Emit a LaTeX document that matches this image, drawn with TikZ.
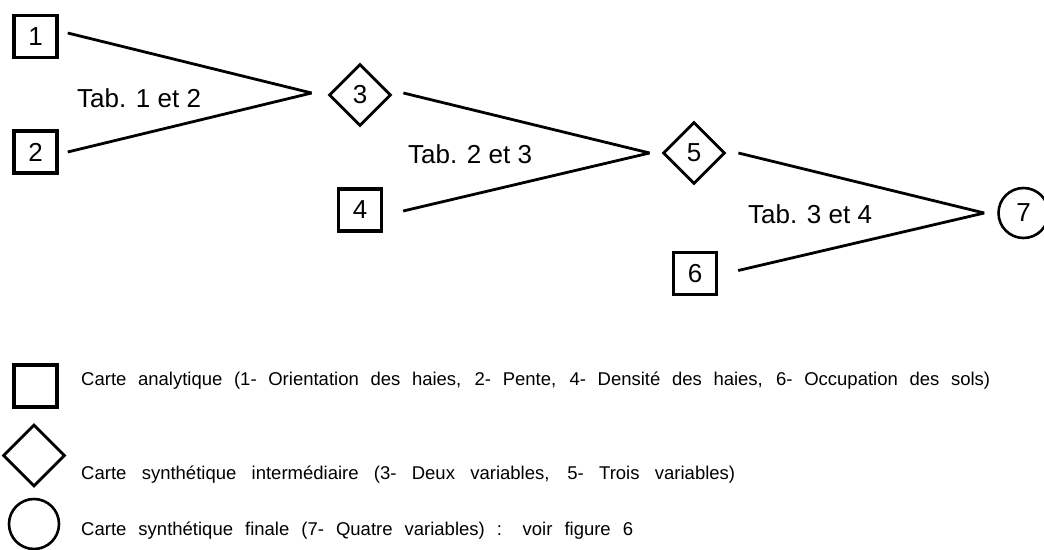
\documentclass[tikz,border=0pt]{standalone}
\usepackage{fontspec}
\setmainfont{Liberation Sans}
\usetikzlibrary{shapes.geometric}
\begin{document}
\begin{tikzpicture}[x=1pt,y=-1pt,
  every node/.style={font=\fontsize{26}{30}\selectfont, inner sep=0pt},
  mapbox/.style={draw, line width=3.4pt, minimum width=43pt, minimum height=42pt},
  mapdiam/.style={draw, diamond, line width=2.8pt, minimum width=62pt, minimum height=62pt},
  mapcirc/.style={draw, circle, line width=2.6pt, minimum size=50pt},
  link/.style={line width=2.8pt},
  tablabel/.style={anchor=base west},
  legtext/.style={anchor=base west, font=\fontsize{18.5}{24}\selectfont}]
\useasboundingbox (0,0) rectangle (1044,549);
\node[mapbox] (b1) at (35.5,36.5) {1};
\node[mapbox] (b2) at (35.5,152) {2};
\node[mapdiam] (d3) at (360,95) {3};
\node[mapbox] (b4) at (360,210) {4};
\node[mapdiam] (d5) at (694,153) {5};
\node[mapbox] (b6) at (695,273.5) {6};
\node[mapcirc] (c7) at (1023.5,213) {7};
\draw[link] ([xshift=9pt,yshift=3.5pt]b1.east) -- ([xshift=-16pt,yshift=2pt]d3.west);
\draw[link] ([xshift=9pt]b2.east) -- ([xshift=-16pt,yshift=2pt]d3.west);
\draw[link] ([xshift=11pt,yshift=2pt]d3.east) -- ([xshift=-12pt]d5.west);
\draw[link] ([xshift=20pt,yshift=-1pt]b4.east) -- ([xshift=-12pt]d5.west);
\draw[link] ([xshift=12pt]d5.east) -- ([xshift=-13pt]c7.west);
\draw[link] ([xshift=20pt,yshift=3pt]b6.east) -- ([xshift=-13pt]c7.west);
\node[tablabel] (t1) at (77,107) {Tab. 1 et 2};
\node[tablabel] (t2) at (408,163) {Tab. 2 et 3};
\node[tablabel] (t3) at (748,223) {Tab. 3 et 4};
\node[mapbox] (l1) at (35.5,386) {};
\node[mapdiam] (l2) at (34,455.5) {};
\node[mapcirc] (l3) at (34,524) {};
\node[legtext] (lt1) at (81,385) {\makebox[909pt][s]{Carte analytique (1- Orientation des haies, 2- Pente, 4- Densité des haies, 6- Occupation des sols)}};
\node[legtext] (lt2) at (81,479) {\makebox[654pt][s]{Carte synthétique intermédiaire (3- Deux variables, 5- Trois variables)}};
\node[legtext] (lt3) at (81,535) {\makebox[552pt][s]{Carte synthétique finale (7- Quatre variables) : voir figure 6}};
\end{tikzpicture}
\end{document}
